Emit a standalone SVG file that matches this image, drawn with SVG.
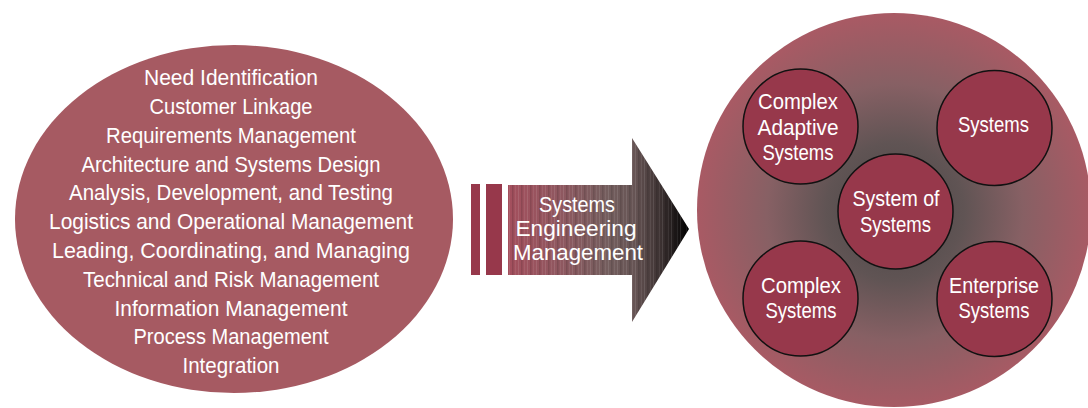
<svg xmlns="http://www.w3.org/2000/svg" width="1088" height="408" viewBox="0 0 1088 408">
  <defs>
    <style>
      .lbl { font-family: "Liberation Sans", Arial, sans-serif; font-size: 22px; fill: #ffffff; text-anchor: middle; }
      .node { fill: #97384b; stroke: #111111; stroke-width: 1.5; }
      .bar { fill: #97384b; }
    </style>
    <linearGradient id="arrowFill" gradientUnits="userSpaceOnUse" x1="508" y1="0" x2="689" y2="0">
      <stop offset="0" stop-color="#a44f5d"/>
      <stop offset="0.3" stop-color="#8e5860"/>
      <stop offset="0.55" stop-color="#745e5e"/>
      <stop offset="0.7" stop-color="#665454"/>
      <stop offset="0.85" stop-color="#3a3030"/>
      <stop offset="1" stop-color="#000000"/>
    </linearGradient>
    <pattern id="streaks" patternUnits="userSpaceOnUse" x="508" y="0" width="9" height="10">
      <rect x="1" y="0" width="1" height="10" fill="#ffffff" fill-opacity="0.10"/>
      <rect x="4" y="0" width="1.5" height="10" fill="#000000" fill-opacity="0.12"/>
      <rect x="7" y="0" width="1" height="10" fill="#ffffff" fill-opacity="0.07"/>
    </pattern>
    <radialGradient id="hubFill" gradientUnits="userSpaceOnUse" cx="895" cy="212" r="197">
      <stop offset="0" stop-color="#4a4646"/>
      <stop offset="0.35" stop-color="#605454"/>
      <stop offset="0.65" stop-color="#876064"/>
      <stop offset="1" stop-color="#a85a64"/>
    </radialGradient>
  </defs>

  <rect x="0" y="0" width="1088" height="408" fill="#ffffff"/>

  <!-- Activities ellipse -->
  <g id="activities">
    <ellipse cx="234" cy="219" rx="219" ry="174" fill="#a65a62"/>
    <text class="lbl" x="231" y="85" textLength="174" lengthAdjust="spacingAndGlyphs">Need Identification</text>
    <text class="lbl" x="231" y="114" textLength="163" lengthAdjust="spacingAndGlyphs">Customer Linkage</text>
    <text class="lbl" x="231" y="143" textLength="250" lengthAdjust="spacingAndGlyphs">Requirements Management</text>
    <text class="lbl" x="231" y="172" textLength="299" lengthAdjust="spacingAndGlyphs">Architecture and Systems Design</text>
    <text class="lbl" x="231" y="200" textLength="324" lengthAdjust="spacingAndGlyphs">Analysis, Development, and Testing</text>
    <text class="lbl" x="231" y="229" textLength="364" lengthAdjust="spacingAndGlyphs">Logistics and Operational Management</text>
    <text class="lbl" x="231" y="258" textLength="358" lengthAdjust="spacingAndGlyphs">Leading, Coordinating, and Managing</text>
    <text class="lbl" x="231" y="287" textLength="296" lengthAdjust="spacingAndGlyphs">Technical and Risk Management</text>
    <text class="lbl" x="231" y="316" textLength="233" lengthAdjust="spacingAndGlyphs">Information Management</text>
    <text class="lbl" x="231" y="344" textLength="195" lengthAdjust="spacingAndGlyphs">Process Management</text>
    <text class="lbl" x="231" y="373" textLength="97" lengthAdjust="spacingAndGlyphs">Integration</text>
  </g>

  <!-- Transition arrow -->
  <g id="connectors">
    <g id="sem-arrow">
      <rect class="bar" x="471" y="184" width="9" height="91"/>
      <rect class="bar" x="486" y="184" width="16" height="91"/>
      <path d="M508 185 H632 V138 L689 229 L632 322 V275 H508 Z" fill="url(#arrowFill)"/>
      <path d="M508 185 H632 V138 L689 229 L632 322 V275 H508 Z" fill="url(#streaks)"/>
      <text class="lbl" x="577" y="212" textLength="76" lengthAdjust="spacingAndGlyphs">Systems</text>
      <text class="lbl" x="576" y="236" textLength="121" lengthAdjust="spacingAndGlyphs">Engineering</text>
      <text class="lbl" x="578" y="260" textLength="130" lengthAdjust="spacingAndGlyphs">Management</text>
    </g>
  </g>

  <!-- System types -->
  <g id="system-types">
    <circle cx="894" cy="210" r="197" fill="url(#hubFill)"/>
  </g>

  <g id="complex-adaptive">
    <circle class="node" cx="800.5" cy="126.5" r="57.5"/>
    <text class="lbl" x="798" y="109" textLength="80" lengthAdjust="spacingAndGlyphs">Complex</text>
    <text class="lbl" x="798" y="135" textLength="81" lengthAdjust="spacingAndGlyphs">Adaptive</text>
    <text class="lbl" x="798" y="160" textLength="71" lengthAdjust="spacingAndGlyphs">Systems</text>
  </g>

  <g id="systems">
    <circle class="node" cx="994.5" cy="128" r="57.5"/>
    <text class="lbl" x="993.5" y="132" textLength="71" lengthAdjust="spacingAndGlyphs">Systems</text>
  </g>

  <g id="system-of-systems">
    <circle class="node" cx="895.5" cy="211.5" r="57.5"/>
    <text class="lbl" x="896" y="206" textLength="87" lengthAdjust="spacingAndGlyphs">System of</text>
    <text class="lbl" x="895.5" y="232" textLength="71" lengthAdjust="spacingAndGlyphs">Systems</text>
  </g>

  <g id="complex">
    <circle class="node" cx="800.5" cy="298.5" r="57.5"/>
    <text class="lbl" x="801" y="293" textLength="80" lengthAdjust="spacingAndGlyphs">Complex</text>
    <text class="lbl" x="801" y="318" textLength="71" lengthAdjust="spacingAndGlyphs">Systems</text>
  </g>

  <g id="enterprise">
    <circle class="node" cx="994.5" cy="299" r="57.5"/>
    <text class="lbl" x="994" y="293" textLength="90" lengthAdjust="spacingAndGlyphs">Enterprise</text>
    <text class="lbl" x="994" y="318" textLength="71" lengthAdjust="spacingAndGlyphs">Systems</text>
  </g>
</svg>
